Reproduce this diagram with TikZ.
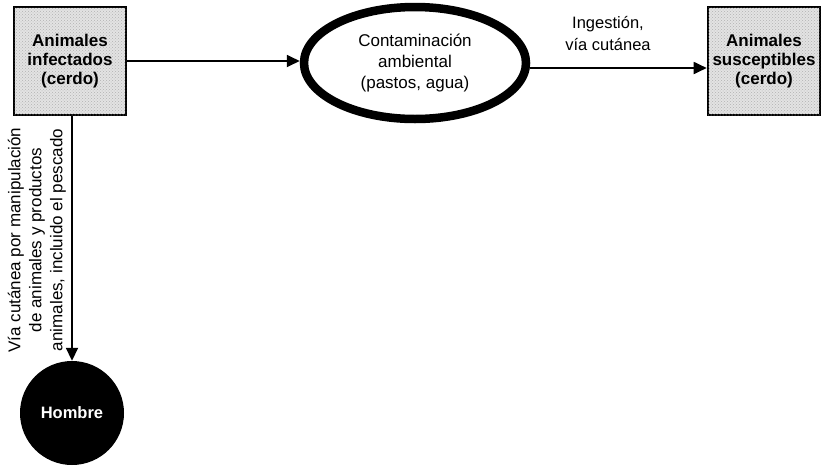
\documentclass[tikz,border=0pt]{standalone}
\usepackage{fontspec}
\setmainfont{Liberation Sans}
\usetikzlibrary{arrows.meta,shapes.geometric,patterns}
\begin{document}
\begin{tikzpicture}[x=1pt,y=-1pt,
  animalbox/.style={draw=black,line width=2.6pt,fill=gray!22,postaction={pattern=crosshatch dots,pattern color=gray!60},minimum width=112pt,minimum height=108pt,inner sep=0pt,align=center,font=\fontsize{17}{19}\selectfont\bfseries},
  envellipse/.style={ellipse,draw=black,line width=8.5pt,fill=white,minimum width=222pt,minimum height=112pt,inner sep=0pt,align=center,font=\fontsize{17}{21.5}\selectfont},
  mancircle/.style={circle,fill=black,minimum size=104pt,inner sep=0pt,text=white,font=\fontsize{16.5}{18}\selectfont\bfseries},
  flow/.style={line width=1.8pt,-{Triangle[length=13pt,width=12pt]}},
  lbl/.style={font=\fontsize{16.5}{22}\selectfont,align=center,inner sep=0pt},
  vlbl/.style={font=\fontsize{17}{21}\selectfont,align=center,inner sep=0pt}]
\useasboundingbox (0,0) rectangle (821,472);
\node[animalbox] (inf) at (70,61) {Animales\\infectados\\(cerdo)};
\node[envellipse] (env) at (415,63) {Contaminación\\ambiental\\(pastos, agua)};
\node[animalbox] (sus) at (764,61) {Animales\\susceptibles\\(cerdo)};
\node[mancircle] (man) at (72,413) {Hombre};
\draw[flow] (inf.east) -- (inf.east -| env.west);
\coordinate (eo) at (530,68);
\draw[flow] (eo) -- (eo -| sus.west);
\node[lbl] (ing) at (608,34) {Ingestión,\\vía cutánea};
\draw[flow] (inf.south -| man.north) -- (man.north);
\node[vlbl,rotate=90] (via) at (37,240) {Vía cutánea por manipulación\\de animales y productos\\animales, incluido el pescado};
\end{tikzpicture}
\end{document}
